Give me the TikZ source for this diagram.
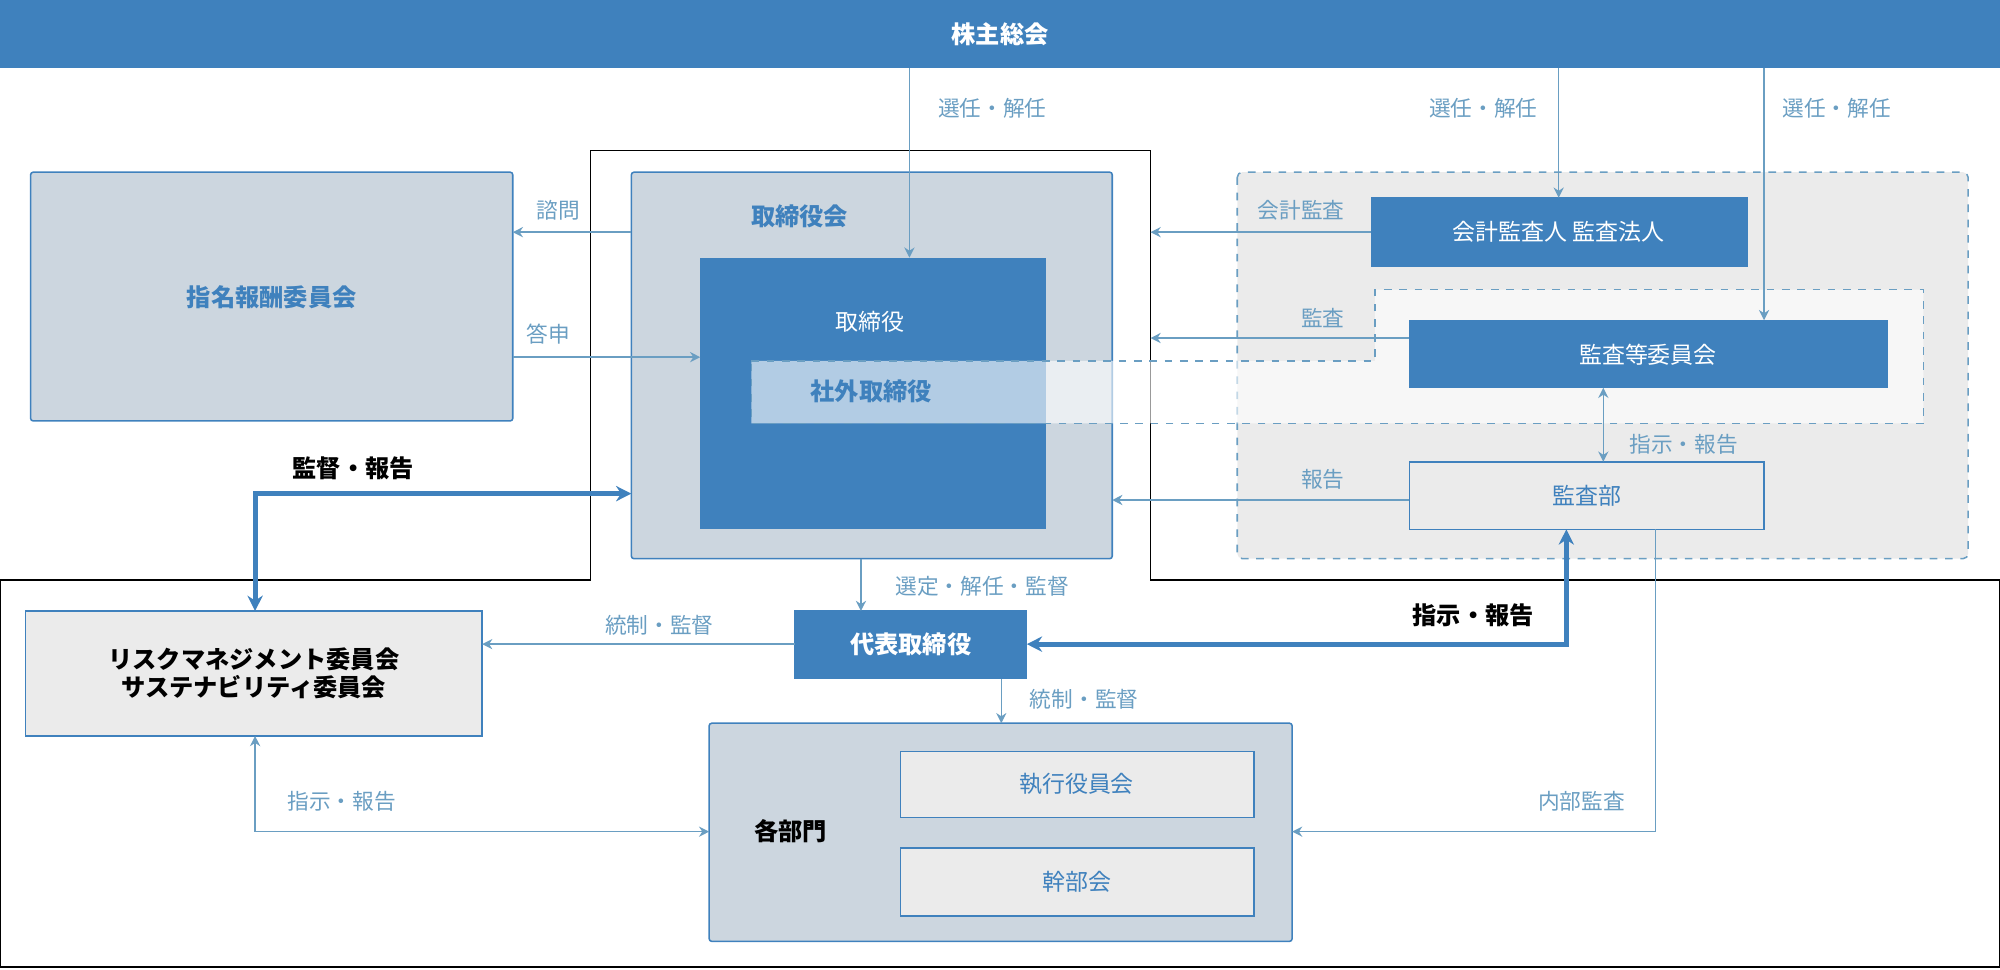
\documentclass[tikz,border=0pt]{standalone}
\usepackage{fontspec}
\setmainfont{Noto Sans CJK JP}
\usetikzlibrary{arrows.meta}
\definecolor{mblue}{HTML}{3F81BD}
\definecolor{lblue}{HTML}{6A9EC2}
\definecolor{gblue}{HTML}{CCD6DF}
\definecolor{lgray}{HTML}{EBEBEB}
\begin{document}
\begin{tikzpicture}[x=0.5pt,y=-0.5pt,
 lab/.style={text=lblue,font=\fontsize{8.5}{10}\selectfont},
 blk/.style={font=\fontsize{9.5}{11}\selectfont\bfseries},
 con/.style={draw=lblue,line width=0.6pt,-{Stealth[length=4pt,width=4pt]}},
 thick/.style={draw=mblue,line width=2pt,{Stealth[length=6pt,width=6pt]}-{Stealth[length=6pt,width=6pt]}},
 bluebox/.style={fill=mblue,draw=mblue},
 graybox/.style={fill=lgray,draw=mblue,line width=0.6pt},
 gbbox/.style={fill=gblue,draw=mblue,line width=0.6pt,rounded corners=1pt}]
\useasboundingbox (0,0) rectangle (1568,760);
% frame
\draw[line width=0.7pt] (0,455)--(463,455)--(463,118)--(902,118)--(902,455)--(1568,455)--(1568,758)--(0,758)--cycle;
% top bar
\fill[mblue] (0,0) rectangle (1568,53);
\node[blk,text=white] (bar) at (784,27) {株主総会};
% left committee
\draw[gbbox] (24,135) rectangle (402,330);
\node[blk,text=mblue] (nom) at (213,233) {指名報酬委員会};
% board
\draw[gbbox] (495,135) rectangle (872,438);
\node[blk,text=mblue] (boardl) at (627,170) {取締役会};
\fill[mblue] (549,202) rectangle (820,415);
\node[text=white,font=\fontsize{9}{11}\selectfont] (dir) at (682,252) {取締役};
% right audit area
\draw[fill=lgray,draw=lblue,dashed,line width=0.6pt,rounded corners=2pt] (970,135) rectangle (1543,438);
\draw[bluebox] (1075,155) rectangle (1370,209);
\node[text=white,font=\fontsize{9}{11}\selectfont] (acc) at (1222,182) {会計監査人 監査法人};
% outside directors band
\draw[fill=white,fill opacity=0.6,draw=lblue,dashed,line width=0.6pt] (589,283)--(1078,283)--(1078,227)--(1508,227)--(1508,332)--(589,332)--cycle;
\node[blk,text=mblue] (outd) at (683,307) {社外取締役};
\draw[bluebox] (1105,251) rectangle (1480,304);
\node[text=white,font=\fontsize{9}{11}\selectfont] (acom) at (1292,278) {監査等委員会};
\draw[graybox] (1105,362) rectangle (1383,415);
\node[text=mblue,font=\fontsize{9}{11}\selectfont] (adep) at (1244,389) {監査部};
% rep director
\draw[bluebox] (623,479) rectangle (805,532);
\node[blk,text=white] (rep) at (714,505) {代表取締役};
% risk
\draw[graybox] (20,479) rectangle (378,577);
\node[blk,align=center] (risk) at (199,528) {リスクマネジメント委員会\\サステナビリティ委員会};
% departments
\draw[gbbox] (556,567) rectangle (1013,738);
\node[blk] (dept) at (620,652) {各部門};
\draw[graybox] (706,589) rectangle (983,641);
\node[text=mblue,font=\fontsize{9}{11}\selectfont] (exe) at (844,615) {執行役員会};
\draw[graybox] (706,665) rectangle (983,718);
\node[text=mblue,font=\fontsize{9}{11}\selectfont] (kan) at (844,691) {幹部会};
% connectors
\draw[con] (713,53)--(713,202); \node[lab] at (778,85) {選任・解任};
\draw[con] (1222,53)--(1222,155); \node[lab] at (1163,85) {選任・解任};
\draw[con] (1383,53)--(1383,251); \node[lab] at (1440,85) {選任・解任};
\draw[con] (495,182)--(402,182); \node[lab] at (438,165) {諮問};
\draw[con] (402,280)--(549,280); \node[lab] at (430,262) {答申};
\draw[con] (1075,182)--(902,182); \node[lab] at (1020,165) {会計監査};
\draw[con] (1105,265)--(902,265); \node[lab] at (1037,249) {監査};
\draw[con] (1105,392)--(872,392); \node[lab] at (1037,376) {報告};
\draw[con,{Stealth[length=4pt,width=4pt]}-{Stealth[length=4pt,width=4pt]}] (1257,304)--(1257,362); \node[lab] at (1320,348) {指示・報告};
\draw[con] (675,438)--(675,479); \node[lab] at (770,460) {選定・解任・監督};
\draw[con] (623,505)--(378,505); \node[lab] at (517,490) {統制・監督};
\draw[con] (785,532)--(785,567); \node[lab] at (850,548) {統制・監督};
\draw[con,{Stealth[length=4pt,width=4pt]}-{Stealth[length=4pt,width=4pt]}] (200,577)--(200,652)--(556,652); \node[lab] at (268,628) {指示・報告};
\draw[con] (1298,415)--(1298,652)--(1013,652); \node[lab] at (1240,628) {内部監査};
\draw[thick] (495,387)--(200,387)--(200,479); \node[blk] at (277,367) {監督・報告};
\draw[thick] (805,505)--(1228,505)--(1228,415); \node[blk] at (1155,482) {指示・報告};
\end{tikzpicture}
\end{document}
